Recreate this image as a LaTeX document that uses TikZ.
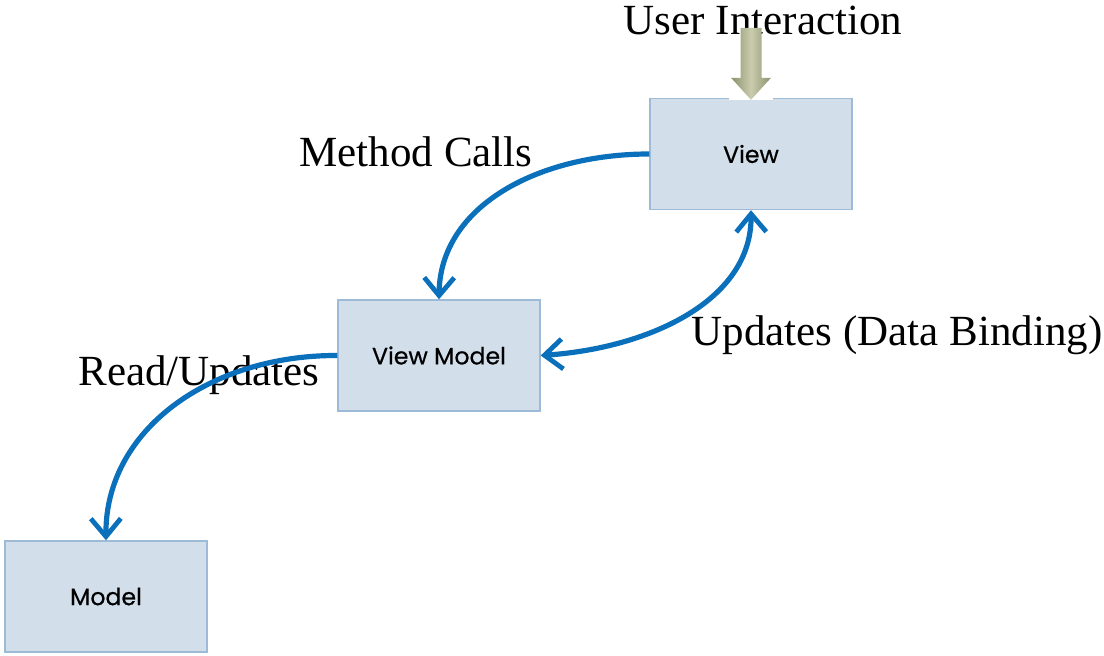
\documentclass[tikz,border=0pt]{standalone}
\usepackage{fontspec}
\setmainfont{Liberation Serif}
\newfontfamily\boxfont[FakeBold=0.6]{Poppins}
\usetikzlibrary{arrows.meta}
\definecolor{boxfill}{HTML}{D2DEEA}
\definecolor{boxline}{HTML}{9DBBD6}
\definecolor{flow}{HTML}{0A70BC}
\definecolor{olivedark}{HTML}{8C916C}
\definecolor{olivelight}{HTML}{C9CDAE}
\begin{document}
\begin{tikzpicture}[x=0.5pt, y=-0.5pt,
	>={Straight Barb[length=9pt, width=15pt, line width=2.4pt]},
	box/.style={draw=boxline, line width=0.7pt, fill=boxfill, minimum width=101pt,
		minimum height=55.5pt, inner sep=0pt, font=\boxfont\fontsize{11.8}{13}\selectfont},
	lbl/.style={inner sep=0pt, font=\fontsize{21.5}{24}\selectfont},
	flowline/.style={draw=flow, line width=2.6pt}]
	\useasboundingbox (0,0) rectangle (1104,656);

	\node[box] (view) at (751,154) {View};
	\node[box] (vm) at (439,355.5) {View Model};
	\node[box] (model) at (106,596.5) {Model};

	\node[lbl] (ui) at (763,20) {User Interaction};
	\node[lbl] (mc) at (416,152) {Method Calls};
	\node[lbl] (ud) at (897,335) {Updates (Data Binding)};
	\node[lbl] (ru) at (199,375) {Read/Updates};

	\fill[white] ([xshift=-11pt, yshift=0.6pt]view.north) rectangle ([xshift=11pt, yshift=-1pt]view.north);
	\shade[left color=olivedark, right color=olivedark, middle color=olivelight]
		([yshift=-1pt]view.north) -- ++(-20,-22) -- ++(9.5,0) -- ++(0,-50) -- ++(21,0)
		-- ++(0,50) -- ++(9.5,0) -- cycle;

	\draw[flowline, ->] (view.west) .. controls (540,154) and (440,205) .. (vm.north);
	\draw[flowline, <->] (view.south) .. controls (752,300) and (650,348) .. (vm.east);
	\draw[flowline, ->] (vm.west) .. controls (210,355) and (105,430) .. (model.north);
\end{tikzpicture}
\end{document}
